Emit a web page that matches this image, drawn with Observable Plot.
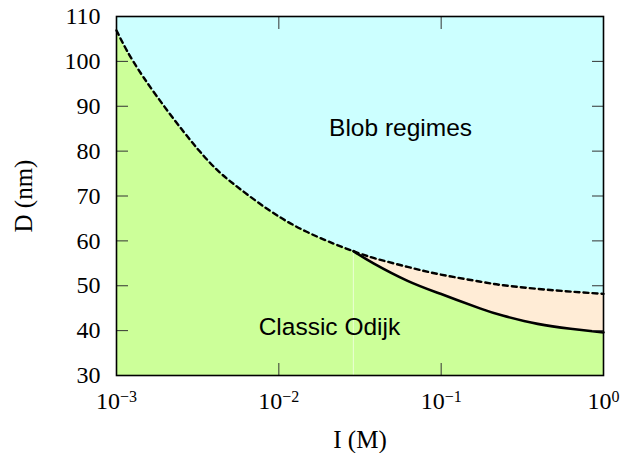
<!DOCTYPE html>
<html><head><meta charset="utf-8">
<script src="https://cdn.jsdelivr.net/npm/d3@7"></script>
<script src="https://cdn.jsdelivr.net/npm/@observablehq/plot@0.6"></script>
<style>body{margin:0;background:#fff}</style>
</head><body><div id="chart"></div>
<script>
// Dashed boundary (Blob regimes / below)
const dashedI = [0.001, 0.00147, 0.00316, 0.00526, 0.00851, 0.0136, 0.0217, 0.0288, 0.0383, 0.0621, 0.0991, 0.175, 0.242, 0.393, 0.627, 1];
const dashedD = [106.9, 96.4, 80.5, 72.7, 67.1, 62.7, 59.4, 57.7, 56.2, 54.2, 52.5, 50.9, 50.1, 49.3, 48.7, 48.2];
// Solid boundary (Classic Odijk upper limit)
const solidI = [0.0288, 0.0383, 0.0621, 0.0991, 0.175, 0.242, 0.393, 0.627, 1];
const solidD = [57.7, 55.0, 51.1, 48.2, 44.9, 43.3, 41.5, 40.4, 39.6];
const meetI = 0.0288;
const xTicks = [0.001, 0.01, 0.1, 1];
const xTickExponents = ["\u22123", "\u22122", "\u22121", "0"];
const yTicks = [30, 40, 50, 60, 70, 80, 90, 100, 110];
const regionNames = ["Blob regimes", "Classic Odijk"];
const regionI = [0.0562, 0.0205];
const regionD = [85.2, 40.7];

const dashed = dashedI.map((I, i) => ({I, D: dashedD[i]}));
const solid = solidI.map((I, i) => ({I, D: solidD[i]}));
const dashedRight = dashed.filter(d => d.I >= meetI);
const regions = regionNames.map((name, i) => ({name, I: regionI[i], D: regionD[i]}));

const cyan = "#ccffff", green = "#ccff99", peach = "#ffecd6";
const curve = "natural";

const chart = Plot.plot({
  width: 623, height: 453,
  marginLeft: 116, marginRight: 20, marginTop: 16, marginBottom: 78,
  style: {fontFamily: "'Liberation Serif', serif", fontSize: "24px", background: "white", color: "black"},
  x: {type: "log", domain: [0.001, 1]},
  y: {domain: [30, 110]},
  marks: [
    Plot.frame({fill: cyan, stroke: "none"}),
    Plot.areaY(dashed, {x: "I", y1: 30, y2: "D", fill: green, curve}),
    Plot.areaY(dashedRight, {x: "I", y1: 30, y2: "D", fill: peach, curve}),
    Plot.areaY(solid, {x: "I", y1: 30, y2: "D", fill: green, curve}),
    Plot.ruleX([meetI], {y1: 30, y2: 57.6, stroke: "white", strokeOpacity: 0.7, strokeWidth: 0.8}),
    Plot.line(dashed, {x: "I", y: "D", stroke: "black", strokeWidth: 2.4, strokeDasharray: "5,4", curve}),
    Plot.line(solid, {x: "I", y: "D", stroke: "black", strokeWidth: 2.6, curve}),
    Plot.text(regions, {x: "I", y: "D", text: "name", fontFamily: "'Liberation Sans', Arial, sans-serif", fontSize: 24.5, fill: "black"}),
    // inward ticks
    Plot.axisY(yTicks, {anchor: "left", tickSize: -12, tickFormat: () => "", label: null, stroke: "#333"}),
    Plot.axisY(yTicks, {anchor: "right", tickSize: -12, tickFormat: () => "", label: null, stroke: "#333"}),
    Plot.axisX(xTicks, {anchor: "bottom", tickSize: -12, tickFormat: () => "", label: null, stroke: "#333"}),
    Plot.axisX(xTicks, {anchor: "top", tickSize: -12, tickFormat: () => "", label: null, stroke: "#333"}),
    // labels
    Plot.axisY(yTicks, {anchor: "left", tickSize: 0, tickPadding: 16, tickFormat: d => String(d), label: "D (nm)", labelArrow: "none", labelAnchor: "center", labelOffset: 102, fontSize: 24}),
    Plot.axisX(xTicks, {anchor: "bottom", tickSize: 0, tickPadding: 16, tickFormat: d => "10|" + xTickExponents[xTicks.indexOf(d)], label: "I (M)", labelArrow: "none", labelAnchor: "center", labelOffset: 72, fontSize: 24}),
    Plot.frame({stroke: "black", strokeWidth: 1.6})
  ]
});
document.getElementById("chart").appendChild(chart);
chart.querySelectorAll("text").forEach(t => {
  const s = t.textContent;
  if (regionNames.includes(s)) return;
  t.style.fontFamily = "'Liberation Serif', serif";
  if (s.startsWith("10|")) {
    const e = s.slice(3);
    t.style.fontSize = "24px";
    t.textContent = "10";
    const ts = document.createElementNS("http://www.w3.org/2000/svg", "tspan");
    ts.setAttribute("dy", "-0.42em");
    ts.style.fontSize = "16px";
    ts.textContent = e;
    t.appendChild(ts);
  } else if (/[\u2192\u2191]/.test(s) || s === "D (nm)" || s === "I (M)") {
    t.textContent = s.replace(/ ?[\u2192\u2191]/, "");
    t.style.fontSize = "25px";
  } else {
    t.style.fontSize = "24px";
  }
});
</script></body></html>
